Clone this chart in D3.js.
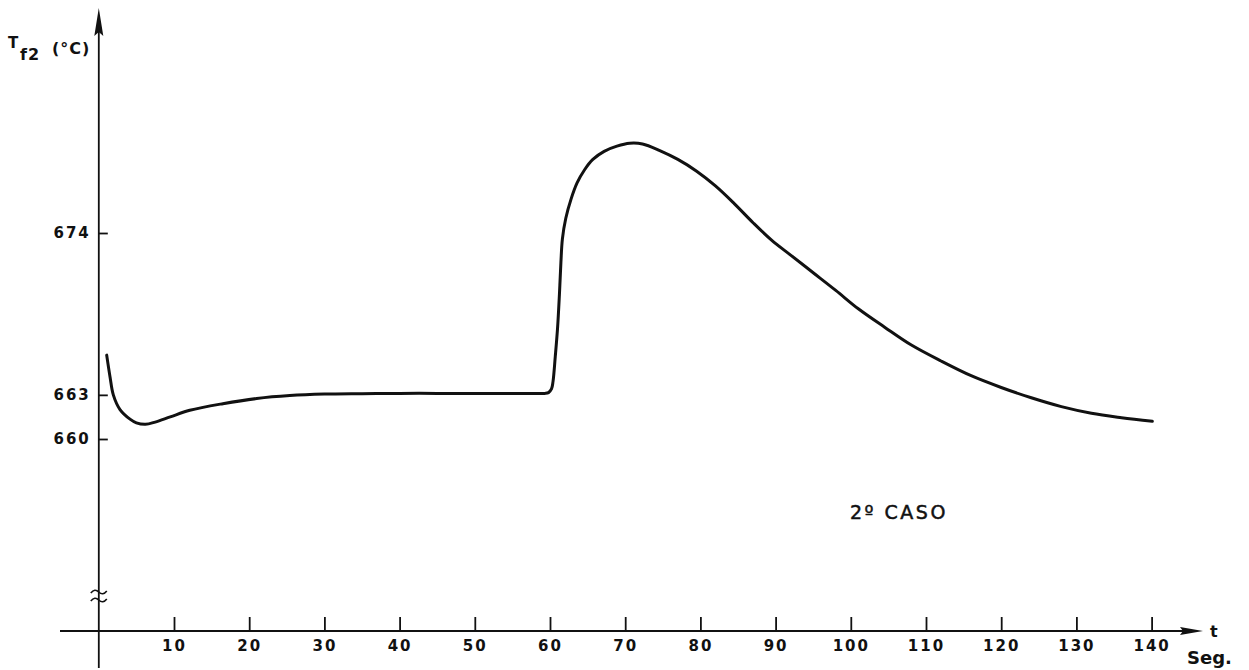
<!DOCTYPE html>
<html>
<head>
<meta charset="utf-8">
<script src="https://cdn.jsdelivr.net/npm/d3@7"></script>
<style>
  html, body { margin: 0; padding: 0; background: #fff; }
  svg { display: block; }
  text { font-family: "DejaVu Sans", "Liberation Sans", sans-serif; fill: #111; }
</style>
</head>
<body>
<svg id="chart" width="1249" height="670"></svg>
<script>
// Fuel temperature transient, case 2 (time in s, temperature in °C)
const timeSec = [1.05, 1.5, 1.93, 2.82, 4.15, 5.0, 6.2, 7.5, 9.5, 12.1, 16.5, 21.0, 25.4, 30, 35, 40, 45, 50, 55, 58, 59.3, 59.8,
  60.2, 60.4, 60.7, 61.0, 61.25, 61.45, 61.65, 62.1, 62.8, 63.6, 64.6, 65.7, 67.2, 68.9,
  70.6, 72.3, 74.6, 77, 79.5, 82, 84.5, 87, 89.5, 92, 95, 98, 101, 104.5,
  108, 112, 116, 120, 124, 128, 132, 136, 140.1];
const tempC = [665.7, 664.2, 663.0, 662.0, 661.35, 661.1, 661.0, 661.15, 661.5, 661.95, 662.4, 662.75, 662.95, 663.05, 663.08, 663.1, 663.1, 663.1, 663.1, 663.1, 663.1, 663.15,
  663.4, 663.9, 665.6, 667.5, 669.8, 672.0, 673.6, 675.0, 676.3, 677.4, 678.3, 679.0, 679.55, 679.9,
  680.1, 680.05, 679.6, 679.0, 678.2, 677.2, 676.0, 674.7, 673.5, 672.5, 671.3, 670.1, 668.85, 667.6,
  666.4, 665.3, 664.3, 663.5, 662.8, 662.2, 661.75, 661.45, 661.2];

const xTicks = [10, 20, 30, 40, 50, 60, 70, 80, 90, 100, 110, 120, 130, 140];
const yTicks = [674, 663, 660];
const yLabelMain = "T";
const yLabelSub = "f2";
const yLabelUnit = "(°C)";
const xLabelVar = "t";
const xLabelUnit = "Seg.";
const caseLabel = "2º CASO";

const svg = d3.select("#chart");
const x = d3.scaleLinear().domain([0, 140]).range([98.8, 1151.6]);
const y = d3.scaleLinear().domain([660, 674]).range([439, 233]);

const axisY0 = 631;           // x-axis baseline
const axisX0 = x(0);          // y-axis position
const ink = "#111";

// axis lines
svg.append("line").attr("x1", 60).attr("x2", 1185).attr("y1", axisY0).attr("y2", axisY0)
  .attr("stroke", ink).attr("stroke-width", 1.8);
svg.append("path")
  .attr("d", `M1203,${axisY0} L1180,${axisY0 - 4} L1183,${axisY0} L1180,${axisY0 + 4} Z`)
  .attr("fill", ink);

svg.append("line").attr("x1", axisX0).attr("x2", axisX0).attr("y1", 668).attr("y2", 30)
  .attr("stroke", ink).attr("stroke-width", 1.8);
svg.append("path")
  .attr("d", `M${axisX0},8 L${axisX0 - 4.5},36 L${axisX0},32 L${axisX0 + 4.5},36 Z`)
  .attr("fill", ink);

// break marks on the y axis
[591, 599].forEach(yy => {
  svg.append("path")
    .attr("d", `M${axisX0 - 8},${yy + 2} q4,-5 8,-1 t8,-1`)
    .attr("fill", "none").attr("stroke", ink).attr("stroke-width", 1.6);
});

// x ticks & labels
const xAxis = d3.axisBottom(x).tickValues(xTicks).tickSizeInner(-14).tickSizeOuter(0).tickPadding(9);
const gx = svg.append("g").attr("transform", `translate(0,${axisY0})`).call(xAxis);
gx.select(".domain").remove();
gx.selectAll(".tick line").attr("stroke", ink).attr("stroke-width", 1.8);
gx.selectAll(".tick text").attr("font-size", 15).attr("font-weight", "bold")
  .attr("letter-spacing", 2).attr("fill", ink)
  .style("font-family", "'DejaVu Sans', sans-serif");

// y ticks & labels
const yAxis = d3.axisLeft(y).tickValues(yTicks).tickSizeInner(-9).tickSizeOuter(0).tickPadding(8);
const gy = svg.append("g").attr("transform", `translate(${axisX0},0)`).call(yAxis);
gy.select(".domain").remove();
gy.selectAll(".tick line").attr("stroke", ink).attr("stroke-width", 1.8);
gy.selectAll(".tick text").attr("font-size", 15).attr("font-weight", "bold")
  .attr("letter-spacing", 2).attr("fill", ink)
  .style("font-family", "'DejaVu Sans', sans-serif");

// temperature curve
const pts = timeSec.map((t, i) => [t, tempC[i]]);
const line = d3.line().x(d => x(d[0])).y(d => y(d[1])).curve(d3.curveCatmullRom.alpha(0.5));
svg.append("path").datum(pts).attr("d", line)
  .attr("fill", "none").attr("stroke", ink).attr("stroke-width", 3)
  .attr("stroke-linejoin", "round").attr("stroke-linecap", "round");

// axis titles
svg.append("text").attr("x", 8).attr("y", 48).attr("font-size", 15).attr("font-weight", "bold").text(yLabelMain);
svg.append("text").attr("x", 20).attr("y", 60).attr("font-size", 16).attr("font-weight", "bold")
  .attr("letter-spacing", 1).text(yLabelSub);
svg.append("text").attr("x", 52).attr("y", 54).attr("font-size", 16).attr("font-weight", "bold")
  .attr("letter-spacing", 1).text(yLabelUnit);

svg.append("text").attr("x", 1210).attr("y", 637).attr("font-size", 16).attr("font-weight", "bold").text(xLabelVar);
svg.append("text").attr("x", 1187).attr("y", 664).attr("font-size", 18).attr("font-weight", "bold").text(xLabelUnit);

svg.append("text").attr("x", 850).attr("y", 519).attr("font-size", 19)
  .attr("letter-spacing", 2.5).attr("stroke", ink).attr("stroke-width", 0.5).text(caseLabel);
</script>
</body>
</html>
